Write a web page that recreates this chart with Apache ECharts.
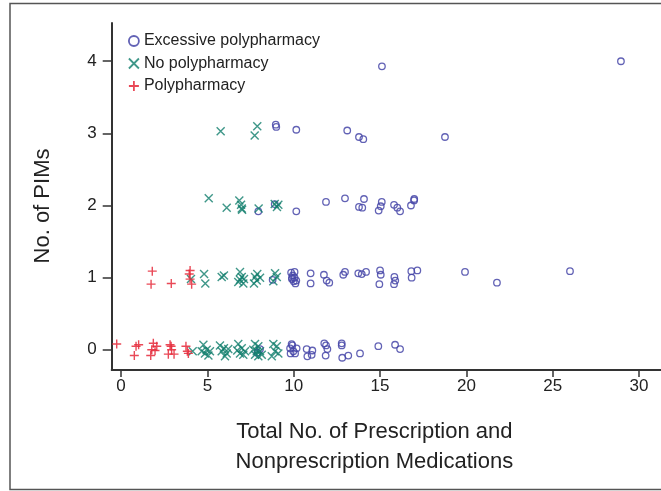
<!DOCTYPE html>
<html>
<head>
<meta charset="utf-8">
<script src="https://cdn.jsdelivr.net/npm/echarts@6/dist/echarts.min.js"></script>
<style>html,body{margin:0;padding:0;background:#fff;}#chart{width:661px;height:491px;}</style>
</head>
<body>
<div id="chart"></div>
<script>
const seriesNames = ['Excessive polypharmacy', 'No polypharmacy', 'Polypharmacy'];
const xTicks = [0, 5, 10, 15, 20, 25, 30];
const yTicks = [0, 1, 2, 3, 4];

const excessiveX = [15.11, 28.95,
  8.96, 8.99, 10.15, 13.1, 13.78, 14.03, 18.76,
  7.95, 8.90, 10.15, 11.87, 12.97, 14.07, 13.78, 13.97, 15.10, 15.04, 14.92, 15.81, 16.0, 16.16, 16.79, 16.98, 16.97,
  8.78, 9.85, 9.95, 10.05, 9.9, 10.0, 10.1, 9.9, 10.05, 10.15, 10.98, 10.98, 11.75, 11.91, 12.06, 12.97, 12.87, 13.74, 13.94, 14.19, 15.0, 15.04, 14.96, 15.83, 15.88, 15.81, 16.81, 17.16, 16.83, 19.92, 21.77, 26.0,
  8.05, 7.9, 9.88, 9.79, 9.98, 10.08, 9.82, 10.17, 9.92, 10.75, 10.79, 11.08, 11.04, 11.77, 11.87, 11.95, 11.85, 12.78, 12.78, 12.81, 13.16, 13.84, 14.9, 15.87, 16.16];
const excessiveY = [3.93, 4.0,
  3.12, 3.09, 3.05, 3.04, 2.95, 2.92, 2.95,
  1.92, 2.02, 1.92, 2.05, 2.10, 2.09, 1.98, 1.97, 2.05, 1.99, 1.93, 2.01, 1.97, 1.92, 2.0, 2.09, 2.07,
  0.97, 1.07, 1.03, 1.08, 0.98, 0.95, 0.92, 1.0, 1.0, 0.96, 1.06, 0.92, 1.04, 0.96, 0.93, 1.08, 1.04, 1.06, 1.05, 1.08, 1.10, 1.04, 0.91, 1.01, 0.96, 0.91, 1.09, 1.10, 1.0, 1.08, 0.93, 1.09,
  0.01, -0.04, 0.08, 0.02, -0.02, -0.05, -0.05, 0.02, 0.06, 0.01, -0.09, -0.01, -0.07, 0.09, 0.06, 0.01, -0.08, 0.09, 0.06, -0.11, -0.08, -0.05, 0.05, 0.07, 0.01];

const noPolyX = [5.77, 7.89, 7.74,
  5.08, 6.12, 6.85, 6.95, 6.99, 7.01, 7.97, 8.90, 9.03, 9.11,
  4.05, 4.81, 4.88, 5.83, 5.96, 6.89, 6.99, 6.79, 7.08, 6.89, 7.12, 7.76, 7.89, 7.86, 7.70, 8.05, 8.92, 9.02, 8.82,
  4.15, 4.77, 4.96, 4.86, 5.15, 5.06, 4.67, 5.73, 5.96, 5.83, 6.12, 6.02, 6.21, 6.79, 6.99, 6.89, 7.18, 7.08, 6.73, 7.76, 7.95, 7.86, 8.05, 7.76, 8.15, 7.95, 7.66, 8.82, 9.02, 8.92, 8.73, 9.11];
const noPolyY = [3.03, 3.10, 2.97,
  2.10, 1.97, 2.07, 2.01, 1.96, 1.94, 1.96, 2.02, 1.98, 2.01,
  0.98, 1.05, 0.92, 1.01, 1.03, 1.08, 1.01, 0.94, 0.92, 0.97, 0.98, 1.01, 1.05, 0.96, 0.92, 1.0, 1.06, 1.01, 0.95,
  -0.02, 0.07, 0, -0.05, -0.02, -0.08, -0.02, 0.06, 0.02, -0.02, -0.05, -0.09, 0.01, 0.08, 0.02, -0.05, -0.02, -0.07, -0.01, 0.08, 0.05, -0.02, -0.02, -0.07, -0.07, -0.09, 0, 0.08, 0.05, -0.02, -0.09, -0.05];

const polyX = [1.81, 1.74, 2.91, 4.0, 3.95, 4.0, 4.09,
  -0.25, 0.87, 1.02, 0.77, 1.87, 1.78, 1.97, 2.07, 1.72, 2.84, 2.93, 2.74, 3.07, 2.9, 3.76, 3.84, 3.90];
const polyY = [1.09, 0.91, 0.92, 1.10, 1.05, 0.98, 0.91,
  0.08, 0.05, 0.07, -0.08, 0.09, 0.0, -0.01, 0.05, -0.08, 0.07, 0, -0.06, -0.06, 0.05, 0.05, -0.02, -0.05];

const pairs = (xs, ys) => xs.map((x, i) => [x, ys[i]]);

const FONT = '"Liberation Sans", Arial, sans-serif';
const BLUE = '#4646a8';
const TEAL = '#0f7d6c';
const RED = '#e5293a';

const chart = echarts.init(document.getElementById('chart'), null, {renderer: 'canvas'});
chart.setOption({
  animation: false,
  backgroundColor: '#fff',
  textStyle: {fontFamily: FONT},
  graphic: [{
    type: 'rect', silent: true, z: -1,
    shape: {x: 10, y: 3.5, width: 700, height: 486},
    style: {fill: 'none', stroke: '#555', lineWidth: 1.5}
  }],
  grid: {left: 111.7, top: 23, right: 0, bottom: 121, containLabel: false},
  legend: {
    orient: 'vertical', left: 128, top: 33, itemGap: 6.5, padding: 0,
    itemWidth: 10, itemHeight: 10, itemStyle: {borderWidth: 1.8},
    textStyle: {fontFamily: FONT, fontSize: 16, color: '#222'},
    data: seriesNames
  },
  xAxis: {
    type: 'value', min: -0.54, max: 31.27,
    name: 'Total No. of Prescription and\nNonprescription Medications',
    nameLocation: 'middle', nameGap: 47,
    nameTextStyle: {fontFamily: FONT, fontSize: 22, color: '#222', lineHeight: 30, padding: [0, 24, 0, 0]},
    axisLine: {show: true, onZero: false, lineStyle: {color: '#333', width: 2}},
    axisTick: {show: true, length: 7, lineStyle: {color: '#333', width: 1.5}, customValues: xTicks},
    axisLabel: {fontFamily: FONT, fontSize: 17, color: '#222', margin: 8, customValues: xTicks},
    splitLine: {show: false}
  },
  yAxis: {
    type: 'value', min: -0.28, max: 4.53,
    name: 'No. of PIMs', nameLocation: 'middle', nameGap: 58, nameRotate: 90,
    nameTextStyle: {fontFamily: FONT, fontSize: 22, color: '#222', padding: [0, 19, 0, 0]},
    axisLine: {show: true, onZero: false, lineStyle: {color: '#333', width: 2}},
    axisTick: {show: true, length: 9, lineStyle: {color: '#333', width: 1.5}, customValues: yTicks},
    axisLabel: {fontFamily: FONT, fontSize: 17, color: '#222', margin: 15, customValues: yTicks},
    splitLine: {show: false}
  },
  series: [
    {
      name: seriesNames[0], type: 'scatter', symbol: 'circle', symbolSize: 6.5,
      itemStyle: {color: 'rgba(0,0,0,0)', borderColor: BLUE, borderWidth: 1.3, opacity: 0.85},
      data: pairs(excessiveX, excessiveY)
    },
    {
      name: seriesNames[1], type: 'scatter', symbol: 'path://M0,0L10,10M10,0L0,10', symbolSize: 8,
      itemStyle: {color: 'rgba(0,0,0,0)', borderColor: TEAL, borderWidth: 1.4, opacity: 0.8},
      data: pairs(noPolyX, noPolyY)
    },
    {
      name: seriesNames[2], type: 'scatter', symbol: 'path://M5,0L5,10M0,5L10,5', symbolSize: 9,
      itemStyle: {color: 'rgba(0,0,0,0)', borderColor: RED, borderWidth: 1.4, opacity: 0.85},
      data: pairs(polyX, polyY)
    }
  ]
});
</script>
</body>
</html>
